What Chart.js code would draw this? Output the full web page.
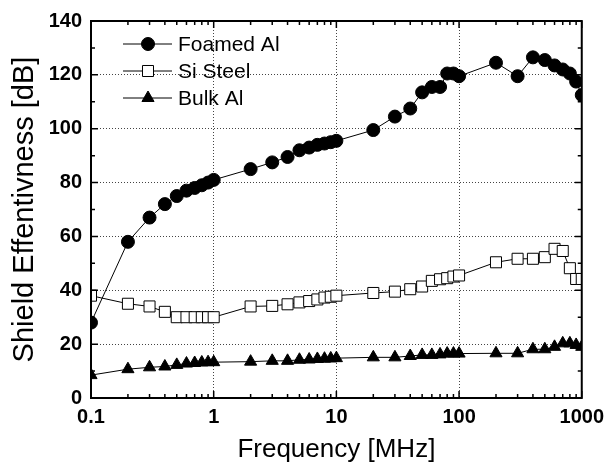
<!DOCTYPE html>
<html>
<head>
<meta charset="utf-8">
<script src="https://cdn.jsdelivr.net/npm/chart.js@4.4.1/dist/chart.umd.min.js"></script>
<style>
  body { margin: 0; background: #fff; }
</style>
</head>
<body>
<canvas id="shieldChart" width="611" height="465"></canvas>
<script>
// frequencies in MHz (same sweep for all three samples)
const freqs = [
  0.1, 0.2, 0.3, 0.4, 0.5, 0.6, 0.7, 0.8, 0.9,
  1, 2, 3, 4, 5, 6, 7, 8, 9,
  10, 20, 30, 40, 50, 60, 70, 80, 90,
  100, 200, 300, 400, 500, 600, 700, 800, 900,
  1000,
];

const foamedAl = [
  28, 58, 67, 72, 75, 77, 78, 79, 80,
  81, 85, 87.5, 89.5, 92, 93, 94, 94.5, 95,
  95.5, 99.5, 104.5, 107.5, 113.5, 115.5, 115.5, 120.5, 120.5,
  119.5, 124.5, 119.5, 126.5, 125.5, 123.5, 122, 120.5, 117.5,
  112.5,
];

const siSteel = [
  38, 35, 34, 32, 30, 30, 30, 30, 30,
  30, 34, 34.2, 34.8, 35.5, 36, 36.6, 37.3, 37.6,
  38, 39, 39.5, 40.4, 41.4, 43.5, 44.1, 44.5, 45.1,
  45.5, 50.4, 51.7, 51.7, 52.3, 55.4, 54.6, 48.2, 44.2,
  44.2,
];

const bulkAl = [
  8.5, 10.7, 11.4, 11.7, 12.3, 12.8, 13, 13.2, 13.3,
  13.3, 13.5, 13.8, 13.8, 14.2, 14.3, 14.5, 14.6, 14.7,
  14.8, 15.1, 15.1, 15.6, 16, 16, 16.2, 16.5, 16.5,
  16.5, 16.6, 16.6, 18.1, 18.1, 19, 20.3, 20.3, 19.7,
  19,
];

const seriesNames = ["Foamed Al", "Si Steel", "Bulk Al"];
const xMajor = [0.1, 1, 10, 100, 1000];
const yMajor = [0, 20, 40, 60, 80, 100, 120, 140];

const FONT = "'Liberation Sans', Arial, sans-serif";

const toPoints = (vals) => freqs.map((f, i) => ({ x: f, y: vals[i] }));

// inward ticks, frame and the line-marker-line legend
const framePlugin = {
  id: "frame",
  afterDatasetsDraw(chart) {
    const { ctx, chartArea: a, scales } = chart;
    const xs = scales.x, ys = scales.y;
    ctx.save();
    ctx.strokeStyle = "#000";
    ctx.lineWidth = 1.5;

    const xMinor = [];
    [0.1, 1, 10, 100].forEach((d) => {
      for (let k = 2; k <= 9; k++) xMinor.push(d * k);
    });
    const yMinor = [10, 30, 50, 70, 90, 110, 130];

    ctx.beginPath();
    const tickX = (v, len) => {
      const px = xs.getPixelForValue(v);
      ctx.moveTo(px, a.bottom); ctx.lineTo(px, a.bottom - len);
      ctx.moveTo(px, a.top); ctx.lineTo(px, a.top + len);
    };
    const tickY = (v, len) => {
      const py = ys.getPixelForValue(v);
      ctx.moveTo(a.left, py); ctx.lineTo(a.left + len, py);
      ctx.moveTo(a.right, py); ctx.lineTo(a.right - len, py);
    };
    xMajor.forEach((v) => tickX(v, 7));
    xMinor.forEach((v) => tickX(v, 4));
    yMajor.forEach((v) => tickY(v, 7));
    yMinor.forEach((v) => tickY(v, 4));
    ctx.stroke();

    ctx.lineWidth = 2;
    ctx.strokeRect(a.left, a.top, a.right - a.left, a.bottom - a.top);
    ctx.restore();
  },
  afterDraw(chart) {
    const { ctx } = chart;
    const rows = [44, 71, 98];
    ctx.save();
    chart.data.datasets.forEach((ds, i) => {
      const y = rows[i];
      ctx.strokeStyle = "#000";
      ctx.lineWidth = 1;
      ctx.beginPath();
      ctx.moveTo(123, y);
      ctx.lineTo(172, y);
      ctx.stroke();

      ctx.fillStyle = ds.pointBackgroundColor;
      ctx.strokeStyle = ds.pointBorderColor;
      ctx.lineWidth = ds.pointBorderWidth;
      Chart.helpers.drawPoint(ctx, {
        pointStyle: ds.pointStyle,
        radius: ds.pointRadius,
        borderWidth: ds.pointBorderWidth,
      }, 148, y);

      ctx.font = "21px " + FONT;
      ctx.fillStyle = "#000";
      ctx.textBaseline = "middle";
      ctx.fillText(ds.label, 178, y + 1);
    });
    ctx.restore();
  },
};

const ctx = document.getElementById("shieldChart").getContext("2d");

const lineStyle = (label, vals, style, radius, fill) => ({
  label: label,
  data: toPoints(vals),
  borderColor: "#000",
  borderWidth: 1,
  pointStyle: style,
  pointRadius: radius,
  pointBackgroundColor: fill,
  pointBorderColor: "#000",
  pointBorderWidth: 1,
  tension: 0,
});

const chart = new Chart(ctx, {
  type: "line",
  data: {
    datasets: [
      lineStyle(seriesNames[0], foamedAl, "circle", 6.5, "#000"),
      lineStyle(seriesNames[1], siSteel, "rect", 7.8, "#fff"),
      lineStyle(seriesNames[2], bulkAl, "triangle", 7, "#000"),
    ],
  },
  options: {
    responsive: false,
    animation: false,
    layout: { padding: { left: 0, right: 23, top: 21, bottom: 0 } },
    plugins: {
      legend: { display: false },
      tooltip: { enabled: false },
    },
    scales: {
      x: {
        type: "logarithmic",
        min: 0.1,
        max: 1000,
        afterBuildTicks: (scale) => {
          scale.ticks = xMajor.map((v) => ({ value: v }));
        },
        afterFit: (scale) => { scale.height = 67; },
        ticks: {
          color: "#000",
          font: { family: FONT, size: 20, weight: "bold" },
          padding: 7,
          maxRotation: 0,
          autoSkip: false,
          callback: (v) => String(v),
        },
        grid: { color: "#444", lineWidth: 1, drawTicks: false },
        border: { display: false, dash: [1, 2] },
        title: {
          display: true,
          text: "Frequency [MHz]",
          color: "#000",
          font: { family: FONT, size: 26 },
          padding: { top: 0, bottom: 0 },
        },
      },
      y: {
        min: 0,
        max: 140,
        afterBuildTicks: (scale) => {
          scale.ticks = yMajor.map((v) => ({ value: v }));
        },
        afterFit: (scale) => { scale.width = 91; },
        ticks: {
          color: "#000",
          font: { family: FONT, size: 20, weight: "bold" },
          padding: 9,
        },
        grid: { color: "#444", lineWidth: 1, drawTicks: false },
        border: { display: false, dash: [1, 2] },
        title: {
          display: true,
          text: "Shield Effentivness [dB]",
          color: "#000",
          font: { family: FONT, size: 29 },
          padding: { top: 8, bottom: 0 },
        },
      },
    },
  },
  plugins: [framePlugin],
});
</script>
</body>
</html>
